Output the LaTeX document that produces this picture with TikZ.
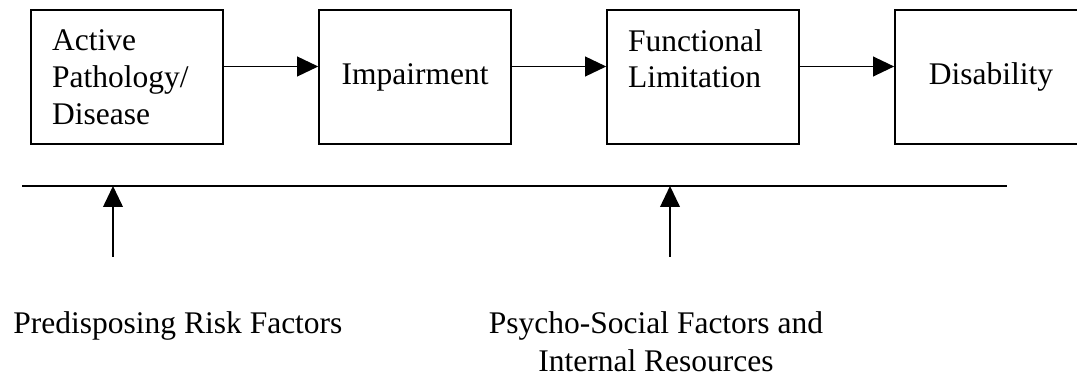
\documentclass[tikz,border=0pt]{standalone}
\usepackage{fontspec}
\setmainfont{Liberation Serif}
\usetikzlibrary{arrows.meta}

\begin{document}
\begin{tikzpicture}[box/.style={draw,line width=0.75pt,rectangle,minimum height=51pt,text width=57pt,inner xsep=8pt,font=\fontsize{12}{14}\selectfont},
arr/.style={line width=0.6pt,-{Triangle[length=8pt,width=7.5pt]}},
lbl/.style={font=\fontsize{12}{14.5}\selectfont,align=center}]
\useasboundingbox (0,0) rectangle (14.42,5.061);
\node[box,align=left] (b1) at (1.70,4.03) {Active\\Pathology/\\Disease};
\node[box,align=center] (b2) at (5.557,4.03) {Impairment};
\node[box,align=left] (b3) at (9.413,4.03) {Functional\\Limitation\\~};
\node[box,align=center] (b4) at (13.268,4.03) {Disability};

\draw[arr] ([yshift=4pt]b1.east) -- ([yshift=4pt]b2.west);
\draw[arr] ([yshift=4pt]b2.east) -- ([yshift=4pt]b3.west);
\draw[arr] ([yshift=4pt]b3.east) -- ([yshift=4pt]b4.west);

\coordinate (hl) at (0.295,2.571);
\coordinate (hr) at (13.483,2.571);
\draw[line width=0.75pt] (hl) -- (hr);
\coordinate (p1) at (1.513,1.620);
\coordinate (p2) at (8.971,1.620);
\draw[arr] (p1) -- (p1 |- hl);
\draw[arr] (p2) -- (p2 |- hl);

\node[lbl,anchor=base] (risk) at (2.383,0.602) {Predisposing Risk Factors};
\node[lbl] (psy) at (8.783,0.482) {Psycho-Social Factors and\\Internal Resources};
\end{tikzpicture}
\end{document}
